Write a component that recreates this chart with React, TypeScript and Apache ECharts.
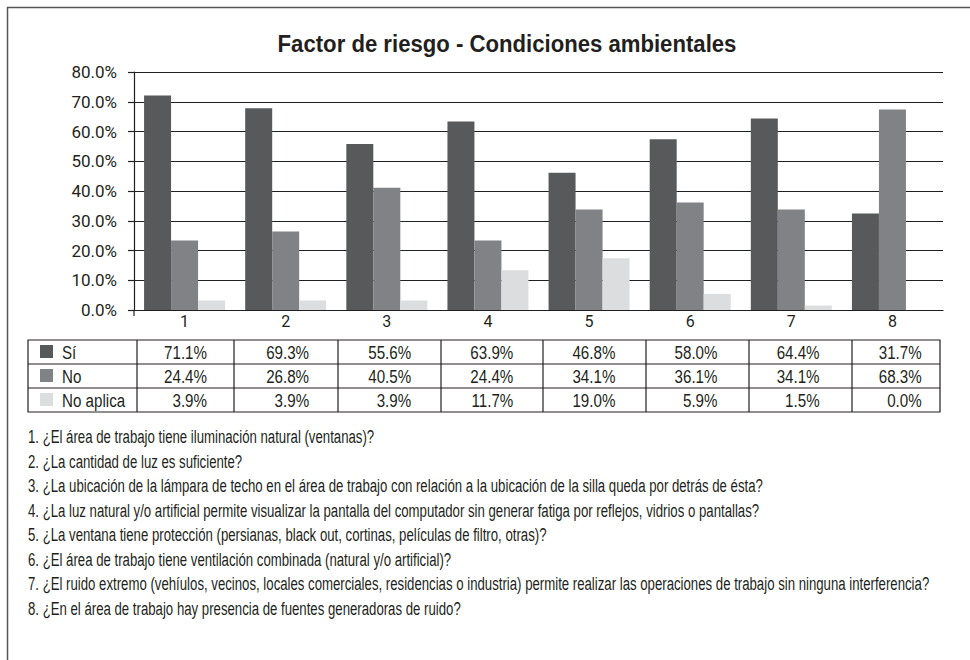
import React, { useEffect, useRef } from "react";
import * as echarts from "echarts";

const categories = ["1", "2", "3", "4", "5", "6", "7", "8"];
const seriesNames = ["Sí", "No", "No aplica"];
// bar heights as drawn (percent)
const siValues = [72.1, 67.8, 55.8, 63.4, 46.1, 57.4, 64.4, 32.4];
const noValues = [23.4, 26.4, 41.1, 23.4, 33.8, 36.1, 33.8, 67.4];
const naValues = [3.2, 3.2, 3.2, 13.4, 17.4, 5.4, 1.5, 0];
// table labels as printed
const siTable = ["71.1%", "69.3%", "55.6%", "63.9%", "46.8%", "58.0%", "64.4%", "31.7%"];
const noTable = ["24.4%", "26.8%", "40.5%", "24.4%", "34.1%", "36.1%", "34.1%", "68.3%"];
const naTable = ["3.9%", "3.9%", "3.9%", "11.7%", "19.0%", "5.9%", "1.5%", "0.0%"];
const yTicks = [0, 10, 20, 30, 40, 50, 60, 70, 80];
const questions = [
  "1. ¿El área de trabajo tiene iluminación natural (ventanas)?",
  "2. ¿La cantidad de luz es suficiente?",
  "3. ¿La ubicación de la lámpara de techo en el área de trabajo con relación a la ubicación de la silla queda por detrás de ésta?",
  "4. ¿La luz natural y/o artificial permite visualizar la pantalla del computador sin generar fatiga por reflejos, vidrios o pantallas?",
  "5. ¿La ventana tiene protección (persianas, black out, cortinas, películas de filtro, otras)?",
  "6. ¿El área de trabajo tiene ventilación combinada (natural y/o artificial)?",
  "7. ¿El ruido extremo (vehíulos, vecinos, locales comerciales, residencias o industria) permite realizar las operaciones de trabajo sin ninguna interferencia?",
  "8. ¿En el área de trabajo hay presencia de fuentes generadoras de ruido?",
];
const title = "Factor de riesgo - Condiciones ambientales";

const COLORS = ["#58595b", "#818285", "#dcdddf"];
const INK = "#231f20";
const FONT = "'Liberation Sans', Arial, sans-serif";
const AXIS_FONT = "Roboto, 'Liberation Sans', sans-serif";

function measure(text: string, font: string): number {
  const c = document.createElement("canvas").getContext("2d");
  if (!c) return text.length * 8;
  c.font = font;
  return c.measureText(text).width;
}

export default function App() {
  const ref = useRef<HTMLDivElement>(null);
  useEffect(() => {
    if (!ref.current) return;
    const chart = echarts.init(ref.current, null, { renderer: "svg" });

    const graphic: any[] = [];
    // outer frame
    graphic.push({
      type: "polyline",
      shape: { points: [[7.5, 660], [7.5, 7.5], [970, 7.5]] },
      style: { stroke: "#555", lineWidth: 1.5, fill: null },
    });
    // y axis extension below zero
    graphic.push({
      type: "line",
      shape: { x1: 134, y1: 310, x2: 134, y2: 316 },
      style: { stroke: INK, lineWidth: 1.2 },
    });

    // title
    const titleFont = `bold 24px ${FONT}`;
    const titleScale = 459 / measure(title, titleFont);
    graphic.push({
      type: "text",
      x: 507,
      y: 44,
      scaleX: titleScale,
      style: { text: title, font: titleFont, fill: INK, textAlign: "center", textVerticalAlign: "middle" },
    });

    // table
    const tTop = 340, rowH = 24, tLeft = 28, tRight = 940;
    const colBounds = [137, 234, 338, 441, 543, 646, 749, 852];
    graphic.push({
      type: "rect",
      shape: { x: tLeft, y: tTop, width: tRight - tLeft, height: rowH * 3 },
      style: { stroke: INK, lineWidth: 1.2, fill: null },
    });
    for (let r = 1; r < 3; r++) {
      graphic.push({
        type: "line",
        shape: { x1: tLeft, y1: tTop + rowH * r, x2: tRight, y2: tTop + rowH * r },
        style: { stroke: INK, lineWidth: 1.2 },
      });
    }
    colBounds.forEach((x) => {
      graphic.push({
        type: "line",
        shape: { x1: x, y1: tTop, x2: x, y2: tTop + rowH * 3 },
        style: { stroke: INK, lineWidth: 1.2 },
      });
    });
    const tableFont = `19px ${FONT}`;
    const tableScale = 43 / measure("71.1%", tableFont);
    const tableRows = [siTable, noTable, naTable];
    tableRows.forEach((row, r) => {
      const cy = tTop + rowH * r + rowH / 2;
      graphic.push({
        type: "rect",
        shape: { x: 40, y: cy - 7, width: 13, height: 13 },
        style: { fill: COLORS[r] },
      });
      graphic.push({
        type: "text",
        x: 62,
        y: cy + 0.5,
        scaleX: tableScale,
        style: { text: seriesNames[r], font: tableFont, fill: INK, textVerticalAlign: "middle", textAlign: "left" },
      });
      row.forEach((v, i) => {
        graphic.push({
          type: "text",
          x: 207 + 102.1 * i,
          y: cy + 0.5,
          scaleX: tableScale,
          style: { text: v, font: tableFont, fill: INK, textVerticalAlign: "middle", textAlign: "right" },
        });
      });
    });

    // questions
    const qFont = `18px ${FONT}`;
    const qScale = 902 / measure(questions[6], qFont);
    questions.forEach((q, i) => {
      graphic.push({
        type: "text",
        x: 28,
        y: 437 + 24.5 * i,
        scaleX: qScale,
        style: { text: q, font: qFont, fill: INK, textVerticalAlign: "middle", textAlign: "left" },
      });
    });

    chart.setOption({
      animation: false,
      grid: { left: 134, right: 27, top: 72, bottom: 350, containLabel: false },
      xAxis: {
        type: "category",
        data: categories,
        axisLine: { show: true, lineStyle: { color: INK, width: 1.2 } },
        axisTick: { show: false },
        axisLabel: { color: INK, fontFamily: AXIS_FONT, fontSize: 16, margin: 3 },
      },
      yAxis: {
        type: "value",
        min: 0,
        max: 80,
        interval: 10,
        axisLine: { show: true, lineStyle: { color: INK, width: 1.2 } },
        axisTick: { show: true, length: 6, lineStyle: { color: INK, width: 1.2 } },
        splitLine: { show: true, lineStyle: { color: INK, width: 1.2 } },
        axisLabel: {
          color: INK,
          fontFamily: AXIS_FONT,
          fontSize: 17,
          margin: 17,
          formatter: (v: number) => (yTicks.includes(v) ? v.toFixed(1) + "%" : ""),
        },
      },
      series: [siValues, noValues, naValues].map((d, i) => ({
        type: "bar",
        name: seriesNames[i],
        data: d,
        barWidth: 27,
        barGap: "0%",
        itemStyle: { color: COLORS[i] },
      })),
      graphic,
    });
    return () => chart.dispose();
  }, []);
  return <div ref={ref} style={{ width: 970, height: 660, position: "absolute", left: 0, top: 0, background: "#fff" }} />;
}
